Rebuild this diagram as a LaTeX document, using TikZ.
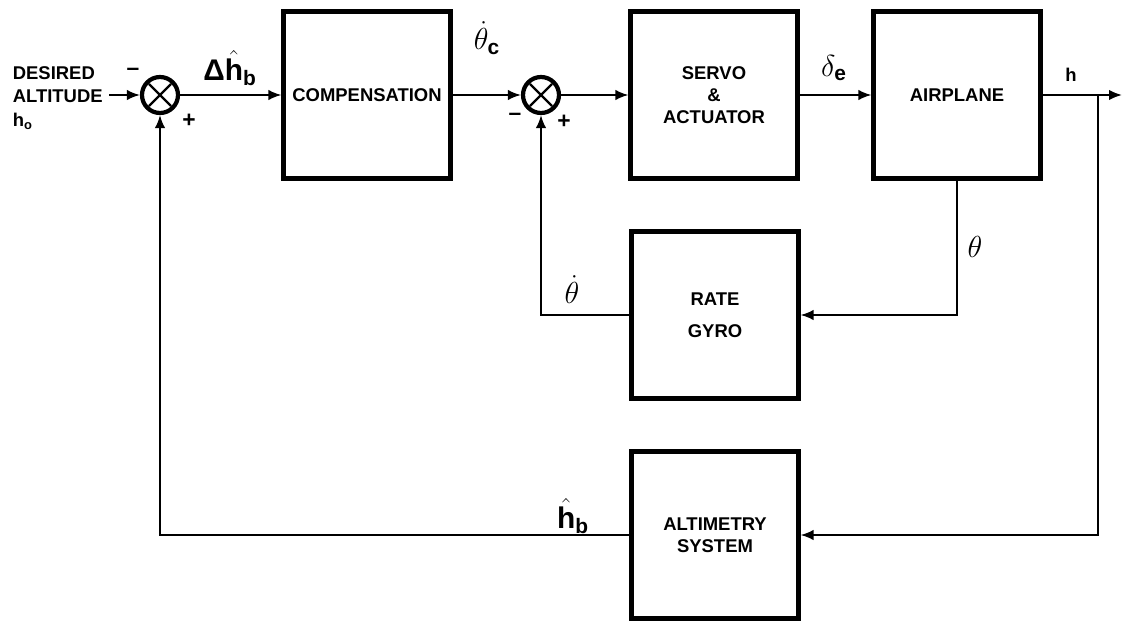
\documentclass[tikz,border=0pt]{standalone}
\usepackage{fontspec}
\setmainfont{Liberation Sans}
\usepackage{amsmath}
\usetikzlibrary{calc,arrows.meta}

\begin{document}
\begin{tikzpicture}[x=0.02cm,y=-0.02cm,line width=1.1pt,>={Latex[length=2.6mm,width=2.1mm]},
  bloque/.style={draw,line width=2.4pt,minimum width=3.34cm,minimum height=3.34cm,align=center,
    font=\bfseries\fontsize{10.5}{12.5}\selectfont},
  suma/.style={draw,circle,line width=2.4pt,minimum size=0.72cm,inner sep=0pt},
  etq/.style={font=\bfseries\fontsize{10.5}{13.5}\selectfont},
  senal/.style={font=\bfseries\fontsize{13}{15}\selectfont},
  griega/.style={font=\bfseries\fontsize{17}{19}\selectfont}]
  \useasboundingbox (0,0) rectangle (1140,622);
  % bloques
  \node[bloque] (comp) at (367,95) {COMPENSATION};
  \node[bloque] (servo) at (714,95) {SERVO\\\&\\ACTUATOR};
  \node[bloque] (avion) at (957,95) {AIRPLANE};
  \node[bloque] (giro) at (715,315) {RATE\\[6pt]GYRO};
  \node[bloque] (alti) at (715,535) {ALTIMETRY\\SYSTEM};
  % sumadores
  \node[suma] (s1) at (160,95) {};
  \node[suma] (s2) at (541,95) {};
  \foreach \s in {s1,s2}{
    \draw[line width=1.4pt,shorten <=2.5pt,shorten >=2.5pt] (\s.45)--(\s.225);
    \draw[line width=1.4pt,shorten <=2.5pt,shorten >=2.5pt] (\s.135)--(\s.315);
  }
  % entrada
  \node[etq,align=left,anchor=west] (ref) at (6,98) {DESIRED\\ALTITUDE\\h\textsubscript{o}};
  \draw[->] (ref.east |- s1.west)--(s1.west);
  % camino directo
  \draw[->] (s1.east)--(comp.west);
  \draw[->] (comp.east)--(s2.west);
  \draw[->] (s2.east)--(servo.west);
  \draw[->] (servo.east)--(avion.west);
  \coordinate (sal) at (1122,95);
  \coordinate (rama) at (1098,95);
  \draw[->] (avion.east)--(sal);
  % lazos de realimentacion
  \draw[->] (avion.south)|-(giro.east);
  \draw[->] (giro.west)-|(s2.south);
  \draw[->] (rama)|-(alti.east);
  \draw[->] (alti.west)-|(s1.south);
  % signos y senales
  \node[senal] at (133,72) {--};
  \node[senal] at (189,121) {+};
  \node[senal] at (515,117) {--};
  \node[senal] at (564,122) {+};
  \node[griega] at (230,68) {Δ$\hat{\textbf{h}}_{\textbf{b}}$};
  \node[griega] at (487,38) {$\dot{\theta}_{\textbf{c}}$};
  \node[griega] at (834,68) {$\delta_{\textbf{e}}$};
  \node[etq] at (1071,75) {h};
  \node[griega] at (975,247) {$\theta$};
  \node[griega] at (572,290) {$\dot{\theta}$};
  \node[griega] at (573,516) {$\hat{\textbf{h}}_{\textbf{b}}$};
\end{tikzpicture}
\end{document}
